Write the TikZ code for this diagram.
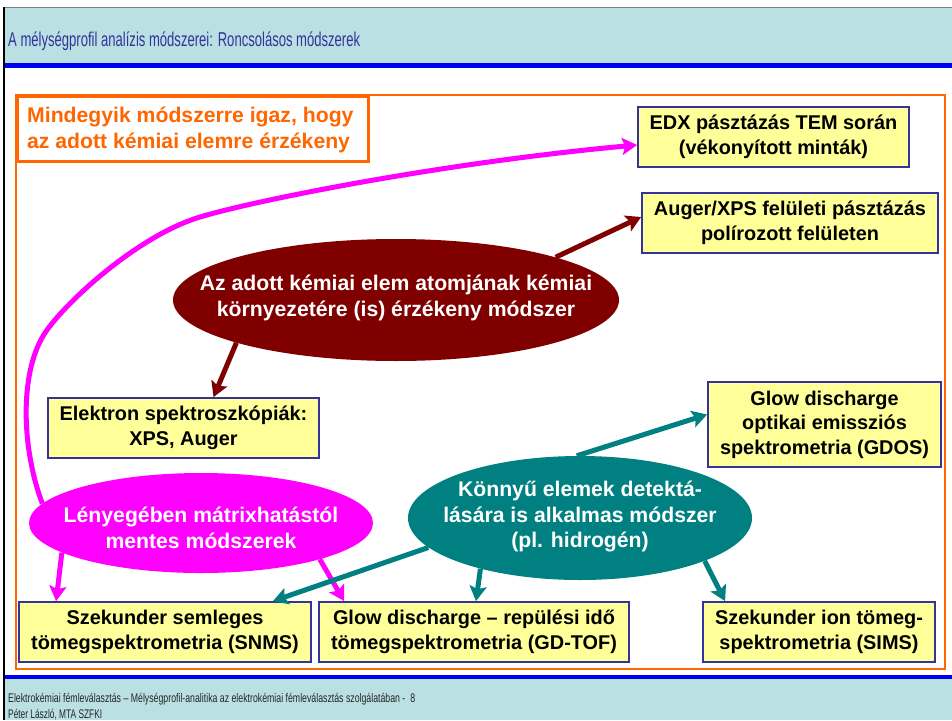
\documentclass[tikz,border=0pt]{standalone}
\usepackage{fontspec}
\setmainfont{Liberation Sans}
\usetikzlibrary{shapes.geometric,arrows.meta}
\definecolor{band}{HTML}{BBE0E3}
\definecolor{titleblue}{HTML}{333399}
\definecolor{lineblue}{HTML}{0000F0}
\definecolor{frameorange}{HTML}{FF6600}
\definecolor{boxyellow}{HTML}{FFFF99}
\definecolor{boxblue}{HTML}{333399}
\definecolor{darkred}{HTML}{800000}
\definecolor{mag}{HTML}{FF00FF}
\definecolor{tealc}{HTML}{008080}
\begin{document}
\begin{tikzpicture}[x=1pt,y=-1pt,
  box/.style={draw=boxblue, line width=1.8pt, fill=boxyellow, inner sep=0pt,
    font=\bfseries\fontsize{19.9}{24.5}\selectfont, align=center},
  ell/.style={ellipse, inner sep=0pt},
  elltext/.style={inner sep=0pt, text=white,
    font=\bfseries\fontsize{21.2}{25.5}\selectfont, align=center},
  arr/.style={line width=5pt, -{Stealth[length=15pt,width=17pt,inset=3pt]}},
  redarr/.style={arr, draw=darkred},
  magarr/.style={arr, draw=mag},
  tealarr/.style={arr, draw=tealc}]
\useasboundingbox (0,0) rectangle (952,720);
\fill[white] (0,0) rectangle (952,720);
% header / footer bands
\fill[band] (4,8) rectangle (952,63);
\fill[lineblue] (4,63) rectangle (952,67.5);
\fill[lineblue] (4,674.5) rectangle (952,679);
\fill[band] (4,679) rectangle (952,720);
\draw[gray, line width=1pt] (3,7.5) -- (952,7.5);
\draw[black, line width=2pt] (3.5,7) -- (3.5,720);
\node[anchor=base west, inner sep=0pt, text=titleblue] (title) at (8,46)
  {\resizebox{352pt}{\height}{\fontsize{20}{22}\selectfont A mélységprofil analízis módszerei: Roncsolásos módszerek}};
\node[anchor=base west, inner sep=0pt, text=black!85] (foot1) at (8,702)
  {\resizebox{407pt}{\height}{\fontsize{12.5}{14}\selectfont Elektrokémiai fémleválasztás – Mélységprofil-analitika az elektrokémiai fémleválasztás szolgálatában -\ \ 8}};
\node[anchor=base west, inner sep=0pt, text=black!85] (foot2) at (8,718.5)
  {\resizebox{94pt}{\height}{\fontsize{12.5}{14}\selectfont Péter László, MTA SZFKI}};
% orange frame and label
\draw[frameorange, line width=2.8pt] (16,95) rectangle (945,669);
\node[draw=frameorange, line width=2.8pt, minimum width=351pt, minimum height=65pt,
  inner sep=0pt, anchor=north west] (lab) at (16,95) {};
\node[anchor=base west, inner sep=0pt, text=frameorange, align=left,
  font=\bfseries\fontsize{21.2}{26}\selectfont] (labtext) at (27,148)
  {Mindegyik módszerre igaz, hogy\\az adott kémiai elemre érzékeny};
% boxes
\node[box, minimum width=271pt, minimum height=60pt] (edx) at (773.5,137)
  {EDX pásztázás TEM során\\(vékonyított minták)};
\node[box, minimum width=296pt, minimum height=60pt] (auger) at (790,223)
  {Auger/XPS felületi pásztázás\\polírozott felületen};
\node[box, minimum width=271pt, minimum height=60pt] (elek) at (183.5,428)
  {Elektron spektroszkópiák:\\XPS, Auger};
\node[box, minimum width=233pt, minimum height=85pt] (gdos) at (824.5,424.5)
  {Glow discharge\\optikai emissziós\\spektrometria (GDOS)};
\node[box, minimum width=292pt, minimum height=60pt] (snms) at (165,632)
  {Szekunder semleges\\tömegspektrometria (SNMS)};
\node[box, minimum width=310pt, minimum height=60pt] (gdtof) at (474,632)
  {Glow discharge – repülési idő\\tömegspektrometria (GD-TOF)};
\node[box, minimum width=232pt, minimum height=60pt] (sims) at (819,632)
  {Szekunder ion tömeg-\\spektrometria (SIMS)};
% ellipses
\node[ell, fill=darkred, minimum width=446pt, minimum height=122pt] (red) at (396,300) {};
\node[elltext] (redtext) at (396,298)
  {Az adott kémiai elem atomjának kémiai\\környezetére (is) érzékeny módszer};
\node[ell, fill=mag, minimum width=344pt, minimum height=100pt] (magell) at (201,523) {};
\node[elltext] (magtext) at (201,528)
  {Lényegében mátrixhatástól\\mentes módszerek};
\node[ell, fill=tealc, minimum width=344pt, minimum height=124pt] (teal) at (580,518) {};
\node[elltext] (tealtext) at (580,516.5)
  {Könnyű elemek detektá-\\lására is alkalmas módszer\\(pl. hidrogén)};
% connectors
\draw[redarr] (red.15) -- ([yshift=6pt]auger.west);
\draw[redarr] (red.195) -- ([xshift=30pt]elek.north);
\draw[magarr] (magell.173) .. controls (22,450) and (18,370) .. (47,330)
  .. controls (70,298) and (140,235) .. (200,217)
  .. controls (260,199) and (450,162) .. ([yshift=-8pt]edx.west);
\draw[magarr] (magell.192) -- ([xshift=38pt]snms.north west);
\draw[magarr] (magell.-17) -- ([xshift=26pt]gdtof.north west);
\draw[tealarr] (teal.93) -- ([yshift=10pt]gdos.west);
\draw[tealarr] (teal.191) -- ([xshift=-39pt]snms.north east);
\draw[tealarr] (teal.207) -- ([xshift=2pt]gdtof.north);
\draw[tealarr] (teal.-19) -- ([xshift=23pt]sims.north west);
\end{tikzpicture}
\end{document}
